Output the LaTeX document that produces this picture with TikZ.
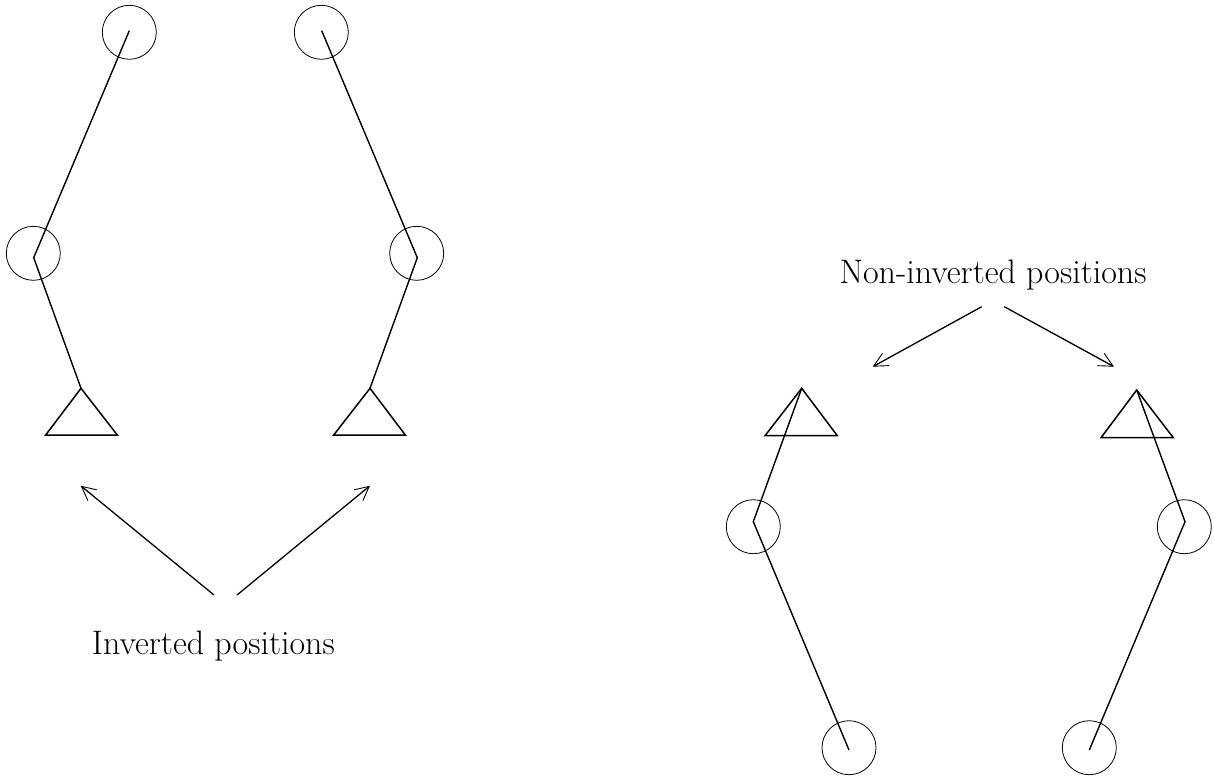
\documentclass[tikz,border=0pt]{standalone}
\usetikzlibrary{arrows.meta}
\begin{document}
\begin{tikzpicture}[x=0.5pt,y=-0.5pt,
  joint/.style={draw,circle,minimum size=27pt,inner sep=0pt,line width=0.4pt},
  limb/.style={line width=0.7pt,line join=miter},
  foot/.style={line width=0.75pt,line join=miter},
  pointer/.style={line width=0.65pt,-{Straight Barb[length=7pt,width=7pt,line width=0.45pt]}},
  lbl/.style={font=\fontsize{17}{20}\selectfont,inner sep=0pt}]
\useasboundingbox (0,0) rectangle (1214,777);
% ---------- left figure A ----------
\node[joint] (a1) at (129.3,32.3) {};
\node[joint] (a2) at (33.3,253.3) {};
\coordinate (a1p) at (129.3,30.7);
\coordinate (a2p) at (33.7,257.7);
\coordinate (a3) at (81,388.3);
\draw[limb] (a1p) -- (a2p) -- (a3);
\draw[foot] (a3) -- (117.3,435) -- (45.7,435) -- cycle;
% ---------- left figure B ----------
\node[joint] (b1) at (321.3,32.3) {};
\node[joint] (b2) at (416.7,253.3) {};
\coordinate (b1p) at (321.7,30.7);
\coordinate (b2p) at (417.3,257.7);
\coordinate (b3) at (370,388.3);
\draw[limb] (b1p) -- (b2p) -- (b3);
\draw[foot] (b3) -- (405.3,435) -- (333.7,435) -- cycle;
% ---------- label inverted ----------
\node[lbl] (inv) at (213.3,646) {Inverted positions};
\coordinate (ia) at (214,595);
\coordinate (ib) at (237,595);
\coordinate (iat) at (80.7,485.7);
\coordinate (ibt) at (370,485.7);
\draw[pointer] (ia) -- (iat);
\draw[pointer] (ib) -- (ibt);
% ---------- right figure C ----------
\coordinate (c3) at (801.7,388.3);
\draw[foot] (c3) -- (837.3,435.7) -- (765,435.7) -- cycle;
\node[joint] (c2) at (753.3,526.7) {};
\node[joint] (c1) at (849,747.7) {};
\coordinate (c2p) at (753.3,521.7);
\coordinate (c1p) at (849,750);
\draw[limb] (c3) -- (c2p) -- (c1p);
% ---------- right figure D ----------
\coordinate (d3) at (1136.7,390);
\draw[foot] (d3) -- (1173.3,437.7) -- (1101,437.7) -- cycle;
\node[joint] (d2) at (1184.3,526.7) {};
\node[joint] (d1) at (1089.3,747.7) {};
\coordinate (d2p) at (1185,521.7);
\coordinate (d1p) at (1089.3,750);
\draw[limb] (d3) -- (d2p) -- (d1p);
% ---------- label non-inverted ----------
\node[lbl] (ninv) at (993,275) {Non-inverted positions};
\coordinate (na) at (981.7,306.7);
\coordinate (nb) at (1004.3,306.7);
\coordinate (nat) at (872.7,366.7);
\coordinate (nbt) at (1114,366.7);
\draw[pointer] (na) -- (nat);
\draw[pointer] (nb) -- (nbt);
\end{tikzpicture}
\end{document}
